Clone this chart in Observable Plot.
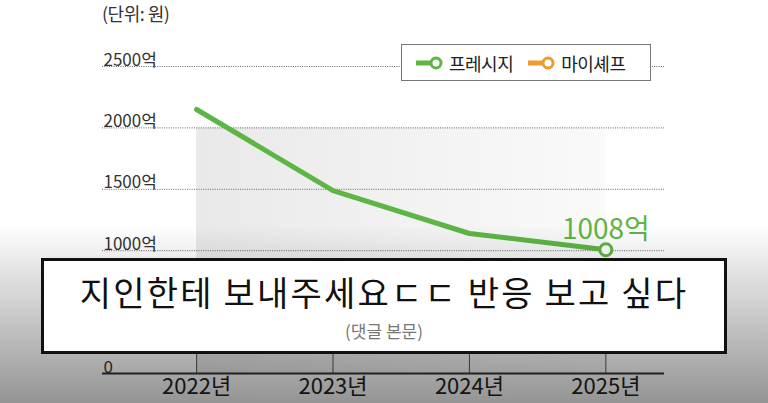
<!DOCTYPE html>
<html><head><meta charset="utf-8">
<script src="https://cdn.jsdelivr.net/npm/d3@7"></script>
<script src="https://cdn.jsdelivr.net/npm/@observablehq/plot@0.6"></script>
<style>
html,body{margin:0;padding:0;background:#fff;}
#wrap{position:relative;width:768px;height:403px;overflow:hidden;font-family:"Noto Sans CJK KR","Noto Sans",sans-serif;}
#unit{position:absolute;left:102px;top:0px;font-size:18px;color:#333;letter-spacing:-0.5px;}
#legend{position:absolute;left:401px;top:44px;width:248px;height:35px;border:1.5px solid #777;background:#fff;display:flex;align-items:center;font-size:18px;color:#222;letter-spacing:-0.5px;}
#legend .it{display:flex;align-items:center;margin-left:13px;}
#legend .it + .it{margin-left:14px;}
#legend svg{margin-right:6px;}
#shade{position:absolute;left:0;top:225px;width:768px;height:178px;background:linear-gradient(to bottom,rgba(0,0,0,0),rgba(0,0,0,0.42));pointer-events:none;}
#box{position:absolute;left:41px;top:258px;width:680px;height:90px;border:3px solid #111;background:#fff;text-align:center;}
#box .t{font-size:34px;color:#111;margin-top:13px;line-height:36px;letter-spacing:2.2px;}
#box .s{font-size:17px;color:#777;margin-top:11px;line-height:20px;}
</style></head>
<body>
<div id="wrap">
<div id="chart"></div>
<div id="unit">(단위: 원)</div>
<div id="legend">
  <div class="it"><svg width="28" height="16"><line x1="1" y1="8" x2="16" y2="8" stroke="#5db544" stroke-width="5"/><circle cx="21" cy="8" r="5" fill="#fff" stroke="#5db544" stroke-width="3"/></svg>프레시지</div>
  <div class="it"><svg width="28" height="16"><line x1="1" y1="8" x2="16" y2="8" stroke="#ee9a2c" stroke-width="5"/><circle cx="21" cy="8" r="5" fill="#fff" stroke="#ee9a2c" stroke-width="3"/></svg>마이셰프</div>
</div>
<div id="shade"></div>
<div id="box"><div class="t">지인한테 보내주세요ㄷㄷ 반응 보고 싶다</div><div class="s">(댓글 본문)</div></div>
</div>
<script>
const years = [2022, 2023, 2024, 2025];
const yearLabels = ["2022년", "2023년", "2024년", "2025년"];
const fresh = [2150, 1490, 1140, 1008];
const myChef = [200, 300, 480, 601];
const gridValues = [500, 1000, 1500, 2000, 2500];
const tickValues = [0, 1000, 1500, 2000, 2500];
const tickLabels = ["0", "1000억", "1500억", "2000억", "2500억"];
const freshLabel = "1008억";

const xLeft = 2021.31, xRight = 2025.43;
const freshData = years.map((y, i) => ({year: y, v: fresh[i]}));
const chefData = years.map((y, i) => ({year: y, v: myChef[i]}));
const tickData = tickValues.map((v, i) => ({v, label: tickLabels[i]}));
const yearData = years.map((y, i) => ({year: y, label: yearLabels[i]}));

const defsMark = () => {
  const defs = d3.create("svg:defs");
  const g = defs.append("linearGradient").attr("id", "bgShade").attr("x1", "0").attr("x2", "1").attr("y1", "0").attr("y2", "0");
  g.append("stop").attr("offset", "0%").attr("stop-color", "#e9e9e9");
  g.append("stop").attr("offset", "100%").attr("stop-color", "#fafafa");
  return defs.node();
};

const chart = Plot.plot({
  width: 768, height: 403,
  marginLeft: 102, marginRight: 104, marginTop: 66, marginBottom: 30,
  x: {domain: [xLeft, xRight], axis: null},
  y: {domain: [0, 2500], axis: null},
  style: {fontFamily: '"Noto Sans CJK KR","Noto Sans",sans-serif', background: "#fff", overflow: "visible"},
  marks: [
    defsMark,
    Plot.rect([{}], {x1: 2022, x2: 2025, y1: 0, y2: 2000, fill: "url(#bgShade)"}),
    Plot.ruleY(gridValues, {x1: xLeft, x2: xRight, stroke: "#666", strokeWidth: 1, strokeDasharray: "1,1.3"}),
    Plot.ruleX(years, {y1: 0, y2: 260, stroke: "#555", strokeWidth: 1}),
    Plot.ruleY([0], {x1: xLeft, x2: xRight, stroke: "#333", strokeWidth: 2}),
    Plot.text(tickData, {x: xLeft, y: "v", text: "label", textAnchor: "start", lineAnchor: "bottom", dx: 1, dy: -1, fontSize: 17, fill: "#333", letterSpacing: "-0.8px"}),
    Plot.text(yearData, {x: "year", y: 0, text: "label", lineAnchor: "top", dy: 5, fontSize: 22, fill: "#222", letterSpacing: "-1px"}),
    Plot.line(chefData, {x: "year", y: "v", stroke: "#ee9a2c", strokeWidth: 5}),
    Plot.line(freshData, {x: "year", y: "v", stroke: "#5db544", strokeWidth: 5, strokeLinejoin: "round", strokeLinecap: "round"}),
    Plot.dot(freshData.slice(-1), {x: "year", y: "v", r: 6, fill: "#fff", stroke: "#5db544", strokeWidth: 3}),
    Plot.text(freshData.slice(-1), {x: "year", y: "v", text: () => freshLabel, lineAnchor: "bottom", dy: -11, fontSize: 28, fill: "#5db544", letterSpacing: "-1.5px"})
  ]
});
document.getElementById("chart").appendChild(chart);
</script>
</body></html>
